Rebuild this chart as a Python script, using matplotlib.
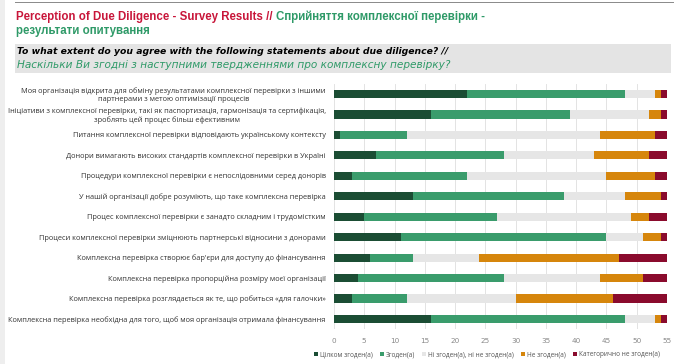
import numpy as np
import matplotlib
matplotlib.use("Agg")
from matplotlib import pyplot as plt
from matplotlib.patches import Rectangle

# statements (top to bottom as in the chart)
statements = [
    "Моя організація відкрита для обміну результатами комплексної перевірки з іншими\nпартнерами з метою оптимізації процесів",
    "Ініціативи з комплексної перевірки, такі як паспортизація, гармонізація та сертифікація,\nзроблять цей процес більш ефективним",
    "Питання комплексної перевірки відповідають українському контексту",
    "Донори вимагають високих стандартів комплексної перевірки в Україні",
    "Процедури комплексної перевірки є непослідовними серед донорів",
    "У нашій організації добре розуміють, що таке комплексна перевірка",
    "Процес комплексної перевірки є занадто складним і трудомістким",
    "Процеси комплексної перевірки зміцнюють партнерські відносини з донорами",
    "Комплексна перевірка створює бар'єри для доступу до фінансування",
    "Комплексна перевірка пропорційна розміру моєї організації",
    "Комплексна перевірка розглядається як те, що робиться «для галочки»",
    "Комплексна перевірка необхідна для того, щоб моя організація отримала фінансування",
]

categories = ["Цілком згоден(а)", "Згоден(а)", "Ні згоден(а), ні не згоден(а)",
              "Не згоден(а)", "Категорично не згоден(а)"]

strongly_agree = [22, 16, 1, 7, 3, 13, 5, 11, 6, 4, 3, 16]
agree          = [26, 23, 11, 21, 19, 25, 22, 34, 7, 24, 9, 32]
neutral        = [5, 13, 32, 15, 23, 10, 22, 6, 11, 16, 18, 5]
disagree       = [1, 2, 9, 9, 8, 6, 3, 3, 23, 7, 16, 1]
strongly_dis   = [1, 1, 2, 3, 2, 1, 3, 1, 8, 4, 9, 1]

x_ticks = [0, 5, 10, 15, 20, 25, 30, 35, 40, 45, 50, 55]

colors = ["#1b4d34", "#3a9c6c", "#e6e6e6", "#d6860c", "#8a0b2d"]

W, H = 674, 364
fig = plt.figure(figsize=(W / 100, H / 100), dpi=100)
fig.patch.set_facecolor("white")

# top rule and left strip
fig.add_artist(Rectangle((15 / W, 1 - 3 / H), 1, 1.5 / H, transform=fig.transFigure,
                         color="#8c8c8c", lw=0))
fig.add_artist(Rectangle((0, 0), 5 / W, 1, transform=fig.transFigure,
                         color="#eeeeee", lw=0))

# title
title_font = "Liberation Sans"
t1 = fig.text(16 / W, 1 - 17 / H, "Perception of Due Diligence - Survey Results // ",
              color="#c8163a", fontsize=8.3, fontweight="bold", family=title_font, va="center")
fig.canvas.draw()
bb = t1.get_window_extent()
fig.text(bb.x1 / W, 1 - 17 / H, "Сприйняття комплексної перевірки -",
         color="#2f9a68", fontsize=8.3, fontweight="bold", family=title_font, va="center")
fig.text(16 / W, 1 - 31 / H, "результати опитування",
         color="#2f9a68", fontsize=8.3, fontweight="bold", family=title_font, va="center")

# subtitle box
fig.add_artist(Rectangle((15 / W, 1 - 73 / H), 656 / W, 29 / H, transform=fig.transFigure,
                         color="#e4e4e4", lw=0))
fig.text(17 / W, 1 - 51 / H, "To what extent do you agree with the following statements about due diligence? //",
         color="black", fontsize=6.7, fontweight="bold", style="italic", va="center")
fig.text(17 / W, 1 - 65 / H, "Наскільки Ви згодні з наступними твердженнями про комплексну перевірку?",
         color="#2f9a68", fontsize=7.6, style="italic", va="center")

# chart
ax = fig.add_axes([334 / W, 34.8 / H, 333 / W, 245.4 / H])
y = np.arange(len(statements))
series = [strongly_agree, agree, neutral, disagree, strongly_dis]
left = np.zeros(len(statements))
handles = []
for vals, col, lab in zip(series, colors, categories):
    b = ax.barh(y, vals, left=left, height=0.4, color=col, label=lab, zorder=3)
    handles.append(b)
    left += np.array(vals)

ax.set_xlim(0, 55)
ax.set_ylim(len(statements) - 0.5, -0.5)
ax.set_xticks(x_ticks)
ax.set_yticks(y)
ax.set_yticklabels(statements, fontsize=5.3, color="#333333", family="Open Sans",
                   multialignment="center")
ax.tick_params(axis="x", labelsize=5.2, colors="#888888", length=0, pad=6)
ax.tick_params(axis="y", length=0, pad=6)
ax.grid(axis="x", color="#e3e3e3", lw=0.7, zorder=0)
for s in ax.spines.values():
    s.set_visible(False)

fig.legend(handles=handles, labels=categories, loc="center", bbox_to_anchor=(487 / W, 1 - 355 / H),
           ncol=5, frameon=False, handlelength=0.55, handleheight=0.55,
           handletextpad=0.35, columnspacing=1.1,
           prop={"family": "Open Sans", "size": 4.7})
for txt in fig.legends[0].get_texts():
    txt.set_color("#555555")

fig.savefig("out.png", dpi=100)
